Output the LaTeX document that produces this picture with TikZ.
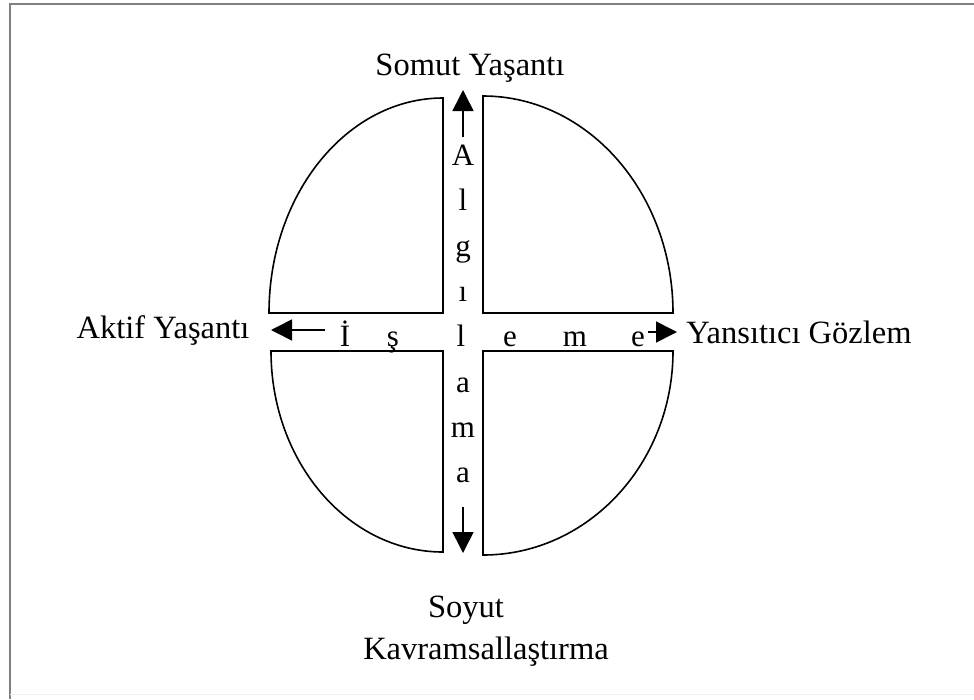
\documentclass[tikz,border=0pt]{standalone}
\usepackage{fontspec}
\setmainfont{Liberation Serif}
\usetikzlibrary{arrows.meta}
\begin{document}
\begin{tikzpicture}[x=1pt,y=-1pt,
  quad/.style={line width=1.6pt, line join=miter},
  lbl/.style={inner sep=0pt, anchor=base, font=\fontsize{32.5}{38}\selectfont},
  letter/.style={inner sep=0pt, anchor=base, font=\fontsize{31}{36}\selectfont},
  arr/.style={line width=1.6pt, -{Triangle[length=21pt,width=21pt]}},
  frame/.style={draw=gray, line width=2pt}]
\useasboundingbox (0,0) rectangle (974,699);
% frame
\draw[frame] (9.5,699) -- (9.5,3.5) -- (974,3.5);
\draw[gray!12, line width=1pt] (9.5,694) -- (974,694);
% quadrants
\draw[quad] (269,313) arc[start angle=180, end angle=270, x radius=174, y radius=215] -- (443,313) -- cycle;
\draw[quad] (483,313) -- (483,96) arc[start angle=270, end angle=360, x radius=190, y radius=217] -- cycle;
\draw[quad] (443,351) -- (443,552) arc[start angle=90, end angle=180, x radius=172, y radius=201] -- cycle;
\draw[quad] (483,351) -- (673,351) arc[start angle=0, end angle=90, x radius=190, y radius=204] -- cycle;
% labels
\node[lbl] (somut) at (470,75) {Somut Yaşantı};
\node[lbl] (aktif) at (163,338) {Aktif Yaşantı};
\node[lbl] (yansitici) at (799,343) {Yansıtıcı Gözlem};
\node[lbl] (soyut) at (466,617) {Soyut};
\node[lbl] (kavram) at (486,659) {Kavramsallaştırma};
% vertical letters: Algılama
\node[letter] (vA) at (463,165) {A};
\node[letter] (vl1) at (463,210) {l};
\node[letter] (vg) at (463,256) {g};
\node[letter] (vi) at (463,301) {ı};
\node[letter] (cl) at (461,346) {l};
\node[letter] (va1) at (463,392) {a};
\node[letter] (vm) at (463,437) {m};
\node[letter] (va2) at (463,482) {a};
% horizontal letters: İşleme
\node[letter] (hI) at (345,346) {İ};
\node[letter] (hs) at (393,346) {ş};
\node[letter] (he1) at (510,346) {e};
\node[letter] (hm) at (575,346) {m};
\node[letter] (he2) at (638,346) {e};
% arrows
\coordinate (upTail) at (463,137);
\coordinate (upTip) at (463,90);
\coordinate (dnTail) at (463,507);
\coordinate (dnTip) at (463,553);
\coordinate (lfTail) at (325,330);
\coordinate (lfTip) at (271,330);
\coordinate (rtTail) at (648,332);
\coordinate (rtTip) at (677,332);
\draw[arr] (upTail) -- (upTip);
\draw[arr] (dnTail) -- (dnTip);
\draw[arr] (lfTail) -- (lfTip);
\draw[arr] (rtTail) -- (rtTip);
\end{tikzpicture}
\end{document}
